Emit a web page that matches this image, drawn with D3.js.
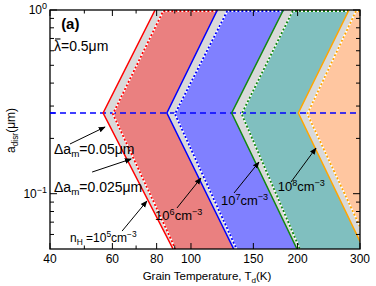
<!DOCTYPE html>
<html><head><meta charset="utf-8">
<script src="https://cdn.jsdelivr.net/npm/d3@7"></script>
<style>body{margin:0;background:#fff}svg{display:block}</style></head>
<body><svg id="c" width="376" height="286"></svg>
<script>
// ---- data ----
const densities = ["1e5", "1e6", "1e7", "1e8"];
const aTop = 1, aVertex = 0.275, aBottom = 0.05;           // a_disr (um)
// Td (K) where each curve crosses a = aTop, aVertex, aBottom
const solidTop    = [79.2, 118.7, 182.3, 279.3];
const solidVertex = [56.5, 85.5, 130.3, 200.9];
const solidBottom = [89.0, 132.0, 199.2, 307.0];
const dottedTop    = [83.5, 126.6, 193.7, 292.3];
const dottedVertex = [60.2, 90.1, 139.0, 213.0];
const dottedBottom = [90.7, 134.9, 203.5, 322.0];
const topLineEnd = [118.7, 182.3, 279.3, 300];           // dotted curves continue along a=1
const lineColors = ["#ff0000", "#0000ff", "#118811", "#ffa500"];
const fillColors = ["#ea8080", "#8080ff", "#80bfbf", "#ffc6a0"];
const bandColor = "#d9d9d9";
const xMajor = [40, 60, 80, 100, 150, 200, 300];
const xMinor = [50, 70, 90];
const yMajor = [0.1, 1];
const yMinor = [0.06, 0.07, 0.08, 0.09, 0.2, 0.3, 0.4, 0.5, 0.6, 0.7, 0.8, 0.9];
const yTickLabels = [{v: 1, base: "10", sup: "0"}, {v: 0.1, base: "10", sup: "\u22121"}];
// annotations in data coordinates [Td, a]
const labels = [
  {pos: [43, 0.788], parts: [["(a)"]], size: 15, bold: true},
  {pos: [41.05, 0.598], parts: [["\u03bb"], ["=0.5\u03bcm"]], size: 14, bar: true},
  {pos: [41.05, 0.1645], parts: [["\u0394a"], ["m", "sub"], ["=0.05\u03bcm"]], size: 14},
  {pos: [41.05, 0.1026], parts: [["\u0394a"], ["m", "sub"], ["=0.025\u03bcm"]], size: 14},
  {pos: [45.55, 0.0548], parts: [["n"], ["H", "sub"], [" =10"], ["5", "sup"], ["cm"], ["\u22123", "sup"]], size: 12},
  {pos: [79.2, 0.0719], parts: [["10"], ["6", "sup"], ["cm"], ["\u22123", "sup"]], size: 13},
  {pos: [121.5, 0.0868], parts: [["10"], ["7", "sup"], ["cm"], ["\u22123", "sup"]], size: 13},
  {pos: [175.7, 0.1038], parts: [["10"], ["8", "sup"], ["cm"], ["\u22123", "sup"]], size: 13}
];
const arrows = [
  [[45.55, 0.1865], [57.2, 0.2307]],
  [[52.6, 0.1312], [67.8, 0.1545]],
  [[63.9, 0.0626], [75.1, 0.0912]],
  [[91.3, 0.0836], [106.7, 0.1217]],
  [[132.3, 0.1009], [155.6, 0.1488]],
  [[191.6, 0.1158], [225.4, 0.1773]]
];

// ---- layout ----
const L = 50, R = 360, T = 10, B = 249;
const font = "'Liberation Sans', Arial, Helvetica, sans-serif";
const svg = d3.select("#c");
const x = d3.scaleLog().domain([40, 300]).range([L, R]);
const y = d3.scaleLog().domain([aBottom, 1]).range([B, T]);

const defs = svg.append("defs");
defs.append("clipPath").attr("id", "clip").append("rect")
  .attr("x", L).attr("y", T).attr("width", R - L).attr("height", B - T);
defs.append("marker").attr("id", "ah").attr("viewBox", "0 0 10 10")
  .attr("refX", 9).attr("refY", 5).attr("markerWidth", 7).attr("markerHeight", 7)
  .attr("orient", "auto").attr("markerUnits", "userSpaceOnUse")
  .append("path").attr("d", "M0,1 L10,5 L0,9 Z").attr("fill", "#000");

const g = svg.append("g").attr("clip-path", "url(#clip)");
const line = d3.line().x(d => x(d[0])).y(d => y(d[1]));

function curve(topT, vT, botT) { return [[topT, aTop], [vT, aVertex], [botT, aBottom]]; }
function rightPoly(pts) {
  return pts.concat([[1000, aBottom], [1000, aTop]]);
}

densities.forEach((d, i) => {
  const s = curve(solidTop[i], solidVertex[i], solidBottom[i]);
  const dt = curve(dottedTop[i], dottedVertex[i], dottedBottom[i]);
  g.append("path").attr("d", line(rightPoly(s)) + "Z").attr("fill", bandColor);
  g.append("path").attr("d", line(rightPoly(dt)) + "Z").attr("fill", fillColors[i]);
});

// horizontal dashed reference line
g.append("path").attr("d", line([[40, aVertex], [300, aVertex]]))
  .attr("stroke", "#0000ff").attr("stroke-width", 1.6).attr("fill", "none")
  .attr("stroke-dasharray", "6,4");

densities.forEach((d, i) => {
  const s = curve(solidTop[i], solidVertex[i], solidBottom[i]);
  const dt = [[topLineEnd[i], aTop]].concat(curve(dottedTop[i], dottedVertex[i], dottedBottom[i]));
  g.append("path").attr("d", line(s)).attr("stroke", lineColors[i])
    .attr("stroke-width", 1.5).attr("fill", "none");
  g.append("path").attr("d", line(dt)).attr("stroke", "#fff")
    .attr("stroke-width", 1.8).attr("fill", "none").attr("transform", "translate(0,1)");
  g.append("path").attr("d", line(dt)).attr("stroke", lineColors[i])
    .attr("stroke-width", 1.8).attr("fill", "none").attr("stroke-dasharray", "2,2")
    .attr("transform", "translate(0,1)");
});

// arrows
arrows.forEach(a => {
  svg.append("line").attr("x1", x(a[0][0])).attr("y1", y(a[0][1]))
    .attr("x2", x(a[1][0])).attr("y2", y(a[1][1]))
    .attr("stroke", "#000").attr("stroke-width", 1).attr("marker-end", "url(#ah)");
});

// labels
function richText2(sel, parts, size) {
  let shift = 0;
  parts.forEach(p => {
    const ts = sel.append("tspan").text(p[0]);
    let target = 0;
    if (p[1] === "sub") { target = size * 0.25; ts.attr("font-size", size * 0.7); }
    else if (p[1] === "sup") { target = -size * 0.38; ts.attr("font-size", size * 0.7); }
    ts.attr("dy", target - shift);
    shift = target;
  });
}
labels.forEach(l => {
  const px = x(l.pos[0]), py = y(l.pos[1]);
  const t = svg.append("text").attr("x", px).attr("y", py)
    .attr("font-family", font).attr("font-size", l.size)
    .attr("font-weight", l.bold ? "bold" : "normal").attr("fill", "#000");
  richText2(t, l.parts, l.size);
  if (l.bar) {
    const w = t.node().getSubStringLength(0, 1);
    svg.append("line").attr("x1", px + 1).attr("x2", px + w - 0.5)
      .attr("y1", py - l.size * 0.86).attr("y2", py - l.size * 0.86)
      .attr("stroke", "#000").attr("stroke-width", 1.1);
  }
});

// frame & ticks
const ax = svg.append("g").attr("stroke", "#000").attr("stroke-width", 1);
ax.append("rect").attr("x", L).attr("y", T).attr("width", R - L).attr("height", B - T)
  .attr("fill", "none").attr("stroke-width", 1.3);
function xt(v, len) {
  ax.append("line").attr("x1", x(v)).attr("x2", x(v)).attr("y1", B).attr("y2", B - len);
  ax.append("line").attr("x1", x(v)).attr("x2", x(v)).attr("y1", T).attr("y2", T + len);
}
function yt(v, len) {
  ax.append("line").attr("y1", y(v)).attr("y2", y(v)).attr("x1", L).attr("x2", L + len);
  ax.append("line").attr("y1", y(v)).attr("y2", y(v)).attr("x1", R).attr("x2", R - len);
}
xMajor.forEach(v => xt(v, 6));
xMinor.forEach(v => xt(v, 3.5));
yMajor.forEach(v => yt(v, 7));
yMinor.forEach(v => yt(v, 4));
svg.append("line").attr("x1", L).attr("x2", L + 5).attr("y1", y(aVertex)).attr("y2", y(aVertex))
  .attr("stroke", "#0000ff").attr("stroke-width", 1.5);

// tick labels
xMajor.forEach(v => {
  svg.append("text").attr("x", x(v)).attr("y", B + 14).attr("text-anchor", "middle")
    .attr("font-family", font).attr("font-size", 12).text(v);
});
yTickLabels.forEach(t => {
  const tx = svg.append("text").attr("x", L - 3).attr("y", y(t.v) + 4).attr("text-anchor", "end")
    .attr("font-family", font).attr("font-size", 12);
  tx.append("tspan").text(t.base);
  tx.append("tspan").text(t.sup).attr("font-size", 9).attr("dy", -5);
});

// axis titles
const xl = svg.append("text").attr("x", (L + R) / 2 + 2).attr("y", 280).attr("text-anchor", "middle")
  .attr("font-family", font).attr("font-size", 11.5);
richText2(xl, [["Grain Temperature, T"], ["d", "sub"], ["(K)"]], 11.5);
const yl = svg.append("text").attr("transform", `translate(15,${(T + B) / 2 + 1}) rotate(-90)`)
  .attr("text-anchor", "middle").attr("font-family", font).attr("font-size", 12);
richText2(yl, [["a"], ["disr", "sub"], ["(\u03bcm)"]], 12);
</script></body></html>
